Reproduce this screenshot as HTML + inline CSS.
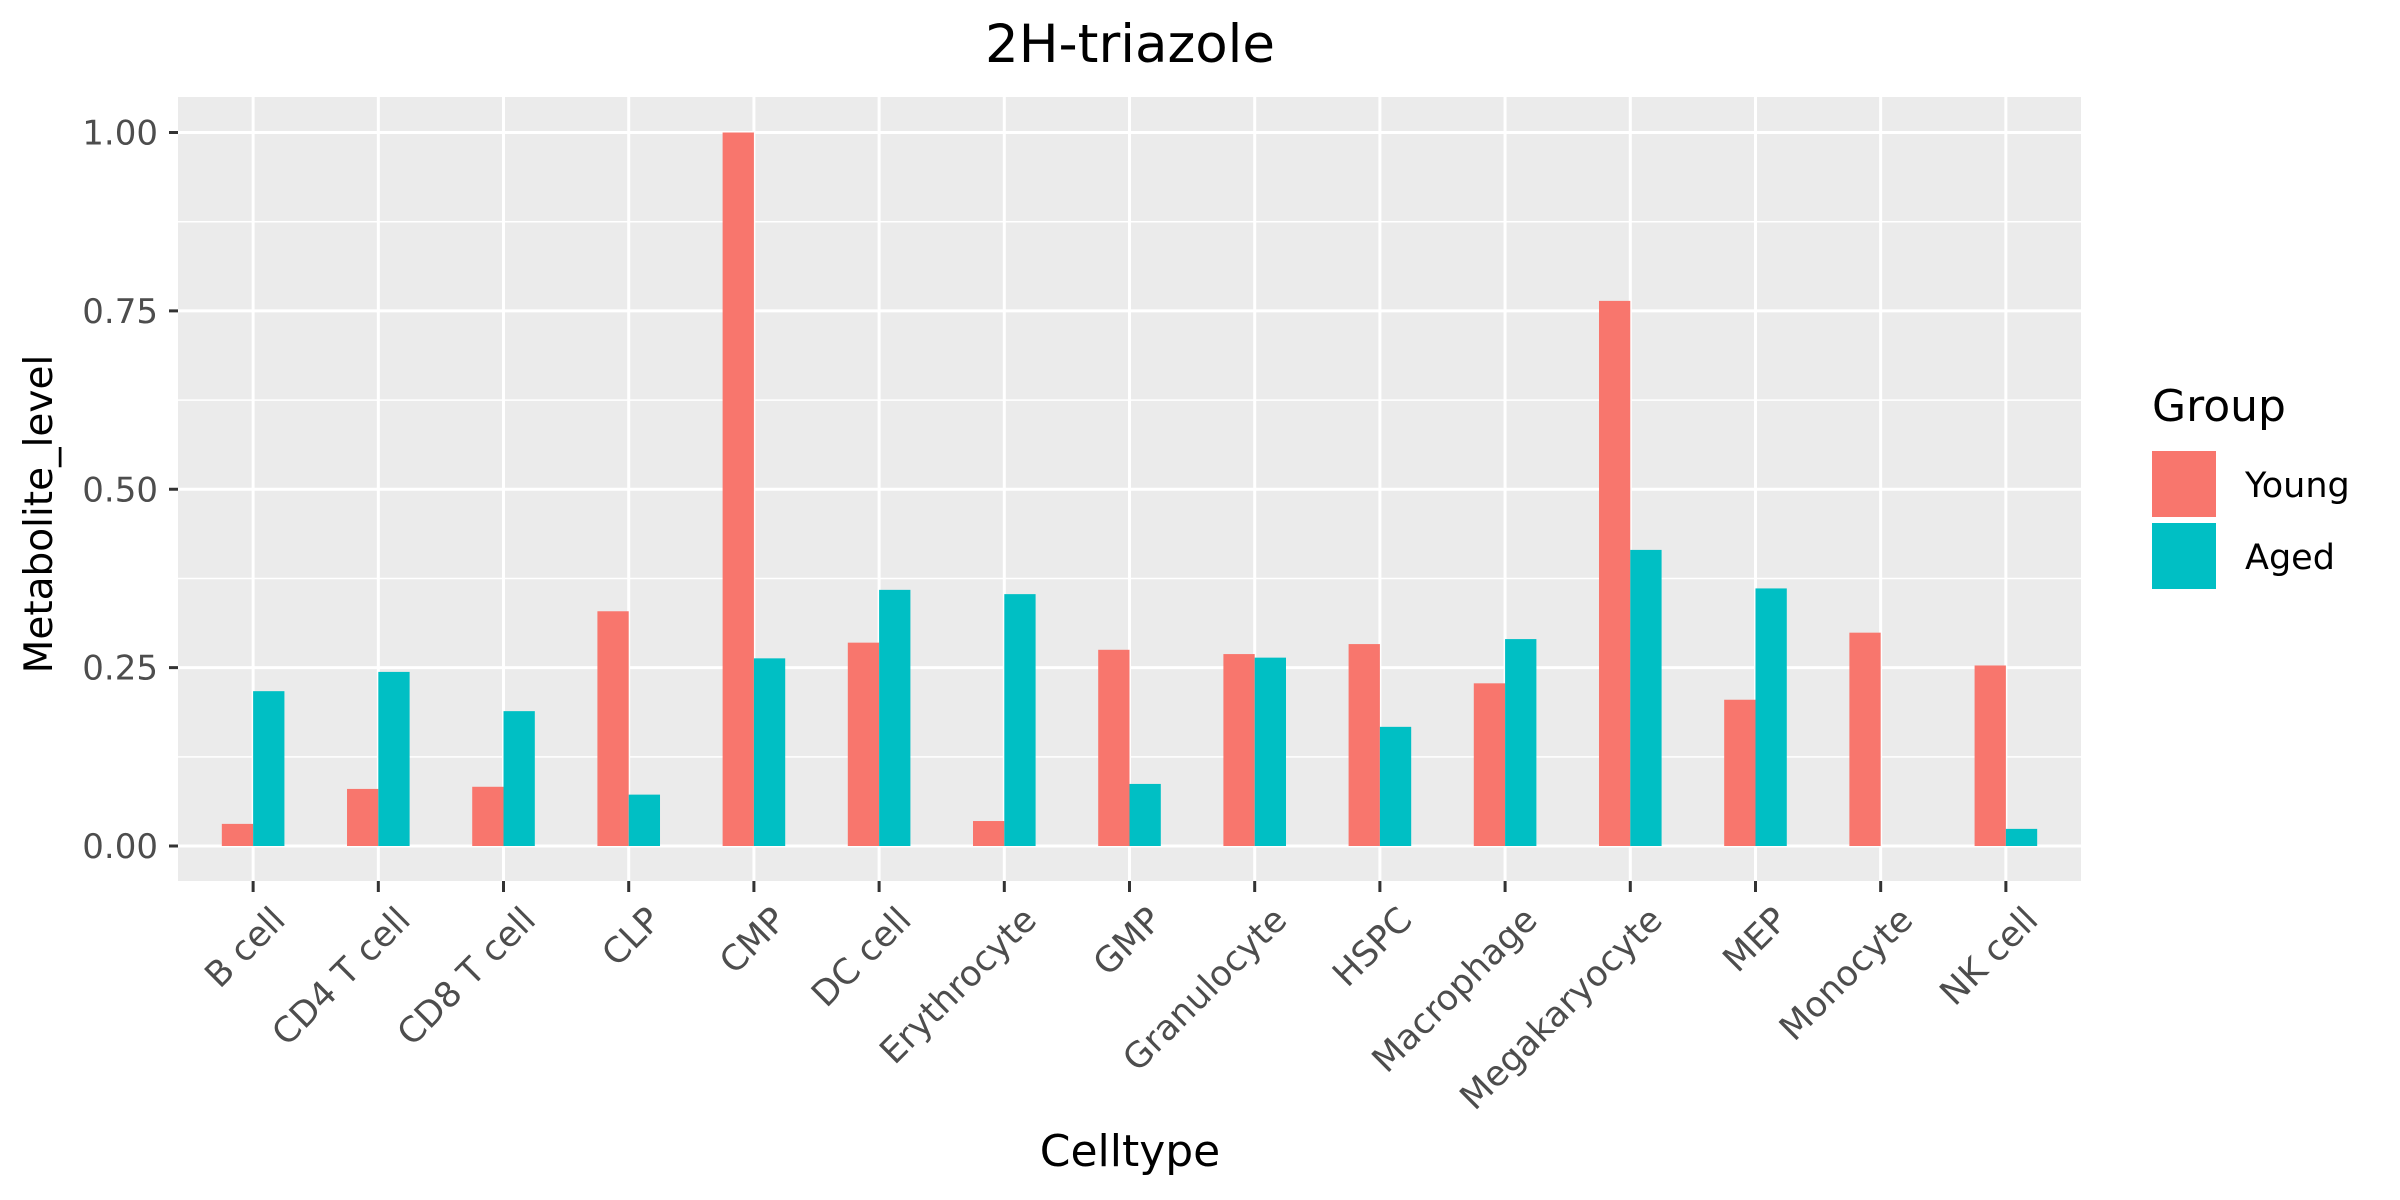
<!DOCTYPE html>
<html><head><meta charset="utf-8"><style>
html,body{margin:0;padding:0;background:#fff;}
svg{display:block;font-family:"DejaVu Sans","Liberation Sans",sans-serif;}
</style></head><body>
<svg id="chart" width="2400" height="1200" viewBox="0 0 2400 1200">
<rect x="0" y="0" width="2400" height="1200" fill="#fff"/>
<text x="1130" y="62" text-anchor="middle" font-size="53" fill="#000">2H-triazole</text>
<rect x="178" y="97" width="1903" height="784" fill="#ebebeb"/>
<g id="grid"></g><g id="bars"></g><g id="axes"></g>
<text transform="translate(52,514) rotate(-90)" text-anchor="middle" font-size="39" fill="#000">Metabolite_level</text>
<text x="1130" y="1166" text-anchor="middle" font-size="44" fill="#000">Celltype</text>
<g>
<text x="2152" y="421" font-size="44" fill="#000">Group</text>
<rect x="2152" y="451" width="64" height="66" fill="#F8766D"/>
<text x="2245" y="497" font-size="35" fill="#000">Young</text>
<rect x="2152" y="523" width="64" height="66" fill="#00BFC4"/>
<text x="2245" y="569" font-size="35" fill="#000">Aged</text>
</g>
</svg>
<script>
const categories=["B cell","CD4 T cell","CD8 T cell","CLP","CMP","DC cell","Erythrocyte","GMP","Granulocyte","HSPC","Macrophage","Megakaryocyte","MEP","Monocyte","NK cell"];
const young=[0.031,0.080,0.083,0.329,1.0,0.285,0.035,0.275,0.269,0.283,0.228,0.764,0.205,0.299,0.253];
const aged=[0.217,0.244,0.189,0.072,0.263,0.359,0.353,0.087,0.264,0.167,0.290,0.415,0.361,null,0.024];
const yTicks=[0,0.25,0.5,0.75,1.0];
const yTickLabels=["0.00","0.25","0.50","0.75","1.00"];
const NS="http://www.w3.org/2000/svg";
const PL=178,PR=2081,PT=97,PB=881;
const unit=(PR-PL)/(categories.length-1+1.2);
function xs(i){return PL+unit*(0.6+i);}
function ys(v){return 846-v*713.5;}
function mk(tag,attrs,parent){const e=document.createElementNS(NS,tag);for(const k in attrs)e.setAttribute(k,attrs[k]);parent.appendChild(e);return e;}
const grid=document.getElementById('grid'),bars=document.getElementById('bars'),axes=document.getElementById('axes');
for(let i=0;i<yTicks.length-1;i++){const v=(yTicks[i]+yTicks[i+1])/2;
 const l=mk('line',{x1:PL,x2:PR,y1:ys(v),y2:ys(v),stroke:'#fff','stroke-width':1.5},grid);
 
 }
yTicks.forEach((v,i)=>{
 const l=mk('line',{x1:PL,x2:PR,y1:ys(v),y2:ys(v),stroke:'#fff','stroke-width':3},grid);
 
 
 const t=mk('line',{x1:PL-9,x2:PL,y1:ys(v),y2:ys(v),stroke:'#333','stroke-width':3},axes);
 
 
 const tx=mk('text',{x:PL-20,y:ys(v)+12,'text-anchor':'end','font-size':34,fill:'#4d4d4d'},axes);
 tx.textContent=yTickLabels[i];
 
 
});
const bw=unit*0.25;
categories.forEach((c,i)=>{
 const x=xs(i);
 const g=mk('line',{x1:x,x2:x,y1:PT,y2:PB,stroke:'#fff','stroke-width':3},grid);
 
 
 if(young[i]!=null){const r=mk('rect',{x:x-bw,y:ys(young[i]),width:bw,height:ys(0)-ys(young[i]),fill:'#F8766D'},bars);
  
  }
 if(aged[i]!=null){const r=mk('rect',{x:x,y:ys(aged[i]),width:bw,height:ys(0)-ys(aged[i]),fill:'#00BFC4'},bars);
  
  }
 const t=mk('line',{x1:x,x2:x,y1:PB,y2:PB+11,stroke:'#333','stroke-width':3},axes);
 
 
 const tx=mk('text',{transform:`translate(${x+34},${PB+41}) rotate(-45)`,'text-anchor':'end','font-size':35,fill:'#4d4d4d'},axes);
 tx.textContent=c;
 
 
});
</script>
</body></html>
